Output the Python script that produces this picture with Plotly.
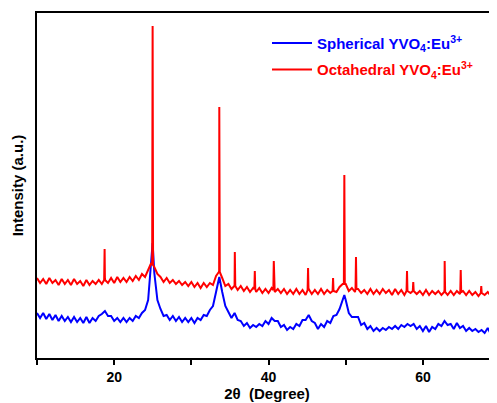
import plotly.graph_objects as go

# 2θ sampling grid (degrees): 10.0 .. 69.6 in 0.4° steps
grid_start, grid_step, grid_n = 10.0, 0.4, 150
two_theta = [round(grid_start + grid_step * i, 2) for i in range(grid_n)]

# Octahedral (red) background values on the grid (a.u.)
red_base = [
    80, 75, 79, 74, 80, 75, 78, 73, 79, 74,
    78, 73, 79, 74, 77, 72, 78, 73, 77, 74,
    78, 74, 79, 75, 80, 75, 81, 76, 80, 76,
    81, 77, 82, 78, 84, 81, 88, 95, 91, 84,
    81, 76, 80, 75, 78, 74, 77, 73, 76, 72,
    76, 71, 75, 70, 75, 71, 75, 73, 82, 85,
    80, 72, 74, 69, 73, 68, 72, 67, 71, 66,
    70, 66, 70, 65, 69, 65, 70, 66, 69, 65,
    69, 64, 68, 64, 69, 64, 68, 63, 69, 64,
    68, 64, 69, 64, 68, 65, 69, 66, 71, 74,
    74, 67, 70, 66, 69, 65, 68, 64, 69, 64,
    68, 64, 69, 65, 68, 63, 69, 64, 68, 63,
    68, 65, 68, 64, 67, 63, 68, 63, 67, 64,
    67, 63, 68, 63, 67, 63, 67, 64, 67, 63,
    67, 63, 66, 62, 67, 63, 66, 62, 67, 63,
]

# Spherical (blue) values on the grid (a.u.)
blue_base = [
    45, 40, 45, 39, 44, 38, 43, 37, 42, 37,
    41, 36, 41, 36, 40, 35, 41, 35, 40, 37,
    42, 44, 47, 42, 42, 37, 40, 36, 40, 36,
    40, 37, 42, 40, 45, 48, 58, 95, 85, 58,
    49, 42, 43, 38, 42, 37, 41, 36, 40, 36,
    40, 35, 40, 38, 43, 42, 48, 52, 66, 78,
    66, 52, 46, 40, 45, 38, 37, 32, 35, 30,
    33, 31, 34, 32, 37, 34, 40, 37, 37, 31,
    33, 28, 31, 29, 34, 32, 38, 38, 43, 37,
    35, 29, 34, 31, 37, 35, 42, 43, 49, 58,
    58, 45, 41, 41, 41, 33, 35, 29, 32, 27,
    30, 27, 30, 28, 31, 29, 32, 29, 33, 31,
    34, 32, 34, 29, 32, 27, 32, 26, 31, 29,
    34, 32, 37, 33, 34, 29, 35, 30, 32, 27,
    30, 27, 29, 26, 28, 25, 30, 24, 29, 25,
]

# Sharp reflections of the octahedral sample: position, apex, foot
red_peak_pos = [18.76, 24.98, 33.62, 35.63, 38.22, 40.68, 45.12, 48.36,
                49.82, 51.33, 57.94, 58.75, 62.82, 64.9, 67.56]
red_peak_top = [109, 332, 251, 106, 87, 97, 90, 80,
                183, 101, 87, 76, 97, 88, 72]
red_peak_foot = [78, 93, 86, 72, 69, 68, 68, 67,
                 74, 69, 67, 67, 66, 66, 65]
red_peak_half = 0.06

# Apexes of the broad reflections of the spherical sample
blue_peak_pos = [24.98, 33.62, 49.82]
blue_peak_top = [115, 81, 63]

# assemble red series (grid + peak points, sorted by angle)
red_pts = list(zip(two_theta, red_base))
for c, t, f in zip(red_peak_pos, red_peak_top, red_peak_foot):
    red_pts += [(c - red_peak_half, f), (c, t), (c + red_peak_half, f)]
red_pts.sort(key=lambda p: p[0])
red_x = [p[0] for p in red_pts]
red_y = [p[1] for p in red_pts]

blue_pts = list(zip(two_theta, blue_base)) + list(zip(blue_peak_pos, blue_peak_top))
blue_pts.sort(key=lambda p: p[0])
blue_x = [p[0] for p in blue_pts]
blue_y = [p[1] for p in blue_pts]

font_family = "Liberation Sans, Arial, sans-serif"

fig = go.Figure()
fig.add_trace(go.Scatter(
    x=blue_x, y=blue_y, mode="lines",
    line=dict(color="#0000FF", width=2),
    legendgroup="s",
    name="<span style='color:#0000FF'><b>Spherical YVO<sub>4</sub>:Eu<sup>3+</sup></b></span>",
))
fig.add_trace(go.Scatter(
    x=red_x, y=red_y, mode="lines",
    line=dict(color="#FF0000", width=2),
    legendgroup="o",
    name="<span style='color:#FF0000'><b>Octahedral YVO<sub>4</sub>:Eu<sup>3+</sup></b></span>",
))

# the page body adds an 8px offset; the figure is sized to fill the rest
fig.update_layout(
    width=489, height=395,
    margin=dict(l=29, r=0, t=5, b=45),
    paper_bgcolor="white", plot_bgcolor="white",
    font=dict(family=font_family, color="black"),
    showlegend=True,
    legend=dict(
        x=0.50, y=0.96, xanchor="left", yanchor="top",
        bgcolor="rgba(0,0,0,0)", borderwidth=0,
        font=dict(size=15, family=font_family),
        tracegroupgap=4, itemwidth=40,
    ),
    xaxis=dict(
        range=[10, 69.6],
        tick0=0, dtick=20,
        ticks="outside", ticklen=5, tickwidth=1.5, tickcolor="black",
        minor=dict(tick0=10, dtick=20, ticks="outside", ticklen=5,
                   tickwidth=1.5, tickcolor="black", showgrid=False),
        showline=True, linecolor="black", linewidth=2, mirror=True,
        showgrid=False, zeroline=False,
        tickfont=dict(size=14, family=font_family, weight="bold"),
        title=dict(text="<b>2θ  (Degree)</b>", font=dict(size=15, family=font_family), standoff=4),
    ),
    yaxis=dict(
        range=[0, 345],
        showticklabels=False, ticks="",
        showline=True, linecolor="black", linewidth=2, mirror=False,
        showgrid=False, zeroline=False,
        title=dict(text="<b>Intensity (a.u.)</b>", font=dict(size=15, family=font_family), standoff=8),
    ),
)

fig.write_html("out.html")
